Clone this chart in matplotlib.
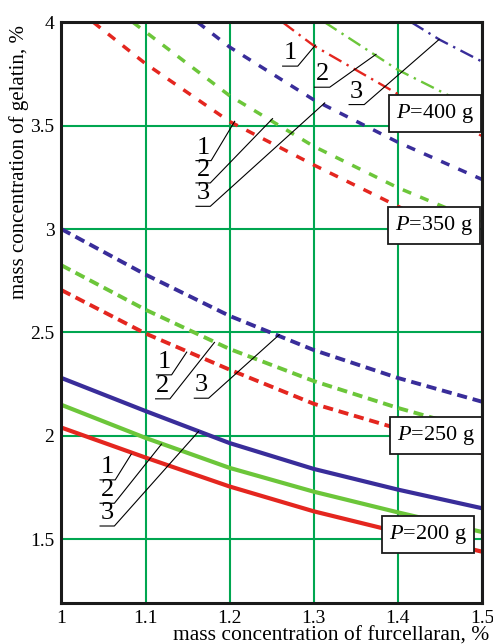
import matplotlib
matplotlib.use("Agg")
import matplotlib.pyplot as plt

plt.rcParams['font.family'] = ['Liberation Serif', 'DejaVu Serif']
plt.rcParams['mathtext.fontset'] = 'custom'
plt.rcParams['mathtext.rm'] = 'Liberation Serif'
plt.rcParams['mathtext.it'] = 'Liberation Serif:italic'

# ---------------- data ----------------
x_full = [1.0, 1.1, 1.2, 1.3, 1.4, 1.5]

# P = 200 g (solid)
p200_red = [2.04, 1.895, 1.755, 1.635, 1.535, 1.44]
p200_green = [2.15, 1.99, 1.845, 1.73, 1.63, 1.535]
p200_blue = [2.28, 2.12, 1.965, 1.84, 1.74, 1.65]

# P = 250 g (dashed)
p250_red = [2.705, 2.495, 2.32, 2.155, 2.035, 1.915]
p250_green = [2.825, 2.61, 2.42, 2.265, 2.135, 2.02]
p250_blue = [3.00, 2.78, 2.58, 2.415, 2.28, 2.165]

# P = 350 g (short dashed)
p350_red_x = [1.038, 1.1, 1.2, 1.3, 1.4, 1.5]
p350_red = [4.0, 3.80, 3.52, 3.31, 3.11, 2.92]
p350_green_x = [1.085, 1.2, 1.3, 1.4, 1.5]
p350_green = [4.0, 3.645, 3.40, 3.20, 3.03]
p350_blue_x = [1.162, 1.2, 1.3, 1.4, 1.5]
p350_blue = [4.0, 3.88, 3.625, 3.42, 3.24]

# P = 400 g (dash-dot)
p400_red_x = [1.263, 1.3, 1.4, 1.5]
p400_red = [4.0, 3.887, 3.653, 3.45]
p400_green_x = [1.313, 1.4, 1.5]
p400_green = [4.0, 3.77, 3.565]
p400_blue_x = [1.416, 1.45, 1.5]
p400_blue = [4.0, 3.915, 3.81]

x_ticks = [1.0, 1.1, 1.2, 1.3, 1.4, 1.5]
x_tick_labels = ["1", "1.1", "1.2", "1.3", "1.4", "1.5"]
y_ticks = [1.5, 2.0, 2.5, 3.0, 3.5, 4.0]
y_tick_labels = ["1.5", "2", "2.5", "3", "3.5", "4"]

box_labels = ["P=400 g", "P=350 g", "P=250 g", "P=200 g"]
curve_numbers = ["1", "2", "3"]

# ---------------- styling ----------------
RED = '#e4261f'
GREEN = '#6cc63a'
BLUE = '#392d9a'
GRID = '#00a650'

fig = plt.figure(figsize=(4.93, 6.44), dpi=100)
ax = fig.add_axes([0.1245, 0.0641, 0.8532, 0.9013])
ax.set_xlim(1.0, 1.5)
ax.set_ylim(1.193, 4.0)

for sp in ax.spines.values():
    sp.set_linewidth(2.2)
    sp.set_color('#1a1a1a')
    sp.set_zorder(10)

ax.set_xticks(x_ticks)
ax.set_xticklabels(x_tick_labels)
ax.set_yticks(y_ticks)
ax.set_yticklabels(y_tick_labels)
ax.tick_params(length=0, labelsize=14, pad=5)
ax.grid(True, color=GRID, lw=1.5, zorder=0)
ax.set_axisbelow(True)

# P=200 solid
ax.plot(x_full, p200_red, color=RED, lw=3.0, solid_capstyle='butt', zorder=3)
ax.plot(x_full, p200_green, color=GREEN, lw=3.0, solid_capstyle='butt', zorder=3)
ax.plot(x_full, p200_blue, color=BLUE, lw=3.0, solid_capstyle='butt', zorder=3)

# P=250 dashed
d250 = dict(lw=2.8, dashes=(2.6, 1.5), zorder=3)
ax.plot(x_full, p250_red, color=RED, **d250)
ax.plot(x_full, p250_green, color=GREEN, **d250)
ax.plot(x_full, p250_blue, color=BLUE, **d250)

# P=350 short dashed
d350 = dict(lw=2.5, dashes=(2.6, 2.8), zorder=3)
ax.plot(p350_red_x, p350_red, color=RED, **d350)
ax.plot(p350_green_x, p350_green, color=GREEN, **d350)
ax.plot(p350_blue_x, p350_blue, color=BLUE, **d350)

# P=400 dash-dot
d400 = dict(lw=1.7, dashes=(6, 2.5, 1, 2.5), zorder=3)
ax.plot(p400_red_x, p400_red, color=RED, **d400)
ax.plot(p400_green_x, p400_green, color=GREEN, **d400)
ax.plot(p400_blue_x, p400_blue, color=BLUE, **d400)

# numbered labels: (x0, x1, y_underline, target_x, target_y)
label_groups = [
    [(1.263, 1.281, 3.788, 1.302, 3.890),
     (1.301, 1.319, 3.686, 1.374, 3.845),
     (1.342, 1.360, 3.602, 1.449, 3.917)],
    [(1.160, 1.178, 3.331, 1.206, 3.521),
     (1.160, 1.177, 3.223, 1.251, 3.534),
     (1.160, 1.177, 3.110, 1.313, 3.610)],
    [(1.113, 1.131, 2.295, 1.149, 2.405),
     (1.112, 1.129, 2.179, 1.182, 2.452),
     (1.158, 1.175, 2.182, 1.259, 2.489)],
    [(1.046, 1.064, 1.787, 1.083, 1.911),
     (1.046, 1.063, 1.674, 1.119, 1.960),
     (1.046, 1.063, 1.564, 1.163, 2.021)],
]
for group in label_groups:
    for num, (x0, x1, yu, tx, ty) in zip(curve_numbers, group):
        ax.plot([x0, x1, tx], [yu, yu, ty], color='black', lw=0.8, zorder=5)
        ax.text((x0 + x1) / 2, yu + 0.010, num, ha='center', va='bottom',
                fontsize=19, zorder=6)

# boxes
box_pos = [(1.4437, 3.5586), (1.4426, 3.0165), (1.4452, 2.001), (1.4355, 1.523)]
for lab, (bx, by) in zip(box_labels, box_pos):
    p, rest = lab.split("=")
    ax.text(bx, by, r"$\mathit{P}$=" + rest, ha='center', va='center',
            fontsize=16, zorder=8,
            bbox=dict(boxstyle='square,pad=0.32', fc='white', ec='#1a1a1a', lw=1.3))

fig.text(19 / 493, 1 - 162 / 644, "mass concentration of gelatin, %",
         rotation=90, ha='center', va='center', fontsize=15)
fig.text(331.5 / 493, 1 - 636 / 644, "mass concentration of furcellaran, %",
         ha='center', va='center', fontsize=15.5)

fig.savefig("out.png", dpi=100)
